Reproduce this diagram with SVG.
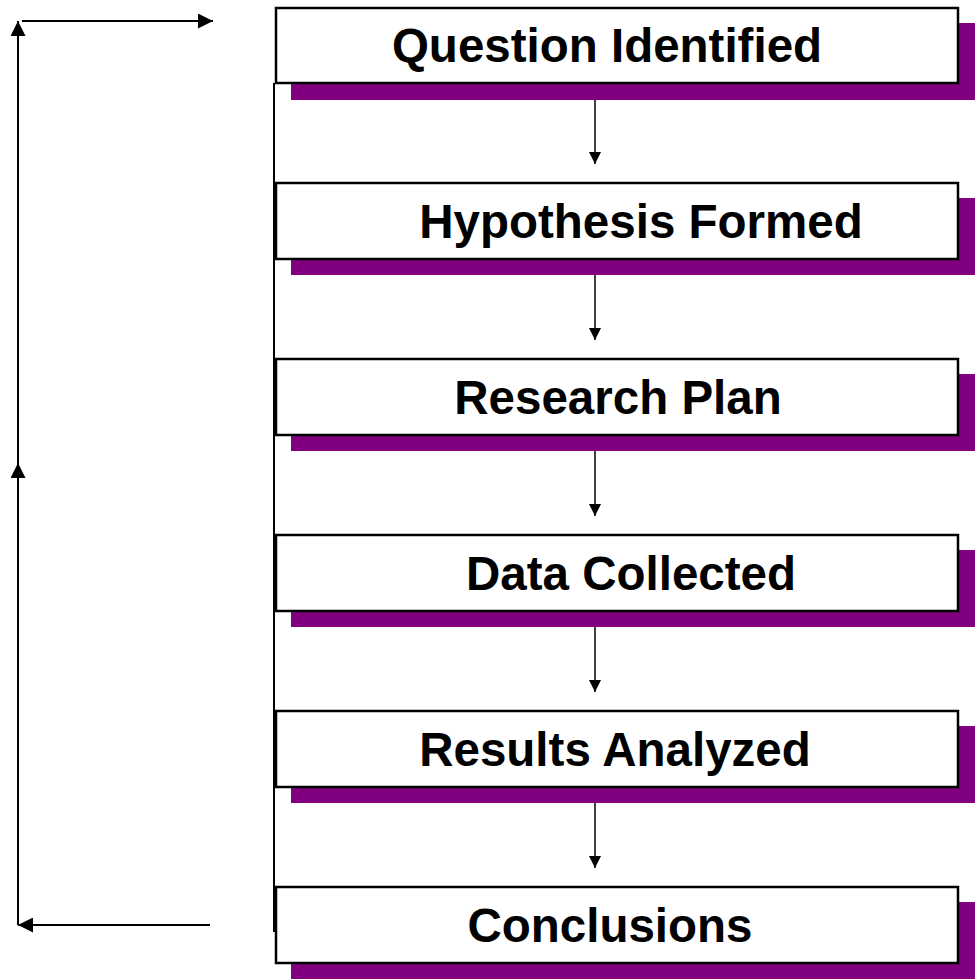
<svg xmlns="http://www.w3.org/2000/svg" width="980" height="980" viewBox="0 0 980 980">
<defs>
<marker id="ah" viewBox="0 0 10 10" refX="10" refY="5" markerWidth="13" markerHeight="12" markerUnits="userSpaceOnUse" orient="auto"><path d="M0,0 L10,5 L0,10 z" fill="#000"/></marker>
<marker id="ahL" viewBox="0 0 10 10" refX="10" refY="5" markerWidth="16" markerHeight="15" markerUnits="userSpaceOnUse" orient="auto"><path d="M0,0 L10,5 L0,10 z" fill="#000"/></marker>
<style>
.sh{fill:#800080}
.bx{fill:#fff;stroke:#000;stroke-width:2.5}
.lb{font-family:"Liberation Sans",Arial,sans-serif;font-weight:bold;font-size:47.5px;fill:#000;text-anchor:middle}
.c{stroke:#000;stroke-width:1.5;fill:none}
.lp{stroke:#000;stroke-width:2;fill:none}
</style>
</defs>
<g id="connectors">
<line class="lp" x1="274" y1="83" x2="274" y2="932"/>
<line class="lp" x1="18" y1="925" x2="18" y2="463" marker-end="url(#ahL)"/>
<line class="lp" x1="18" y1="463" x2="18" y2="21" marker-end="url(#ahL)"/>
<line class="lp" x1="22" y1="21" x2="213" y2="21" marker-end="url(#ahL)"/>
<line class="lp" x1="210" y1="925" x2="18" y2="925" marker-end="url(#ahL)"/>
<line class="c" x1="595" y1="83" x2="595" y2="164" marker-end="url(#ah)"/>
<line class="c" x1="595" y1="259" x2="595" y2="340" marker-end="url(#ah)"/>
<line class="c" x1="595" y1="435" x2="595" y2="516" marker-end="url(#ah)"/>
<line class="c" x1="595" y1="611" x2="595" y2="692" marker-end="url(#ah)"/>
<line class="c" x1="595" y1="787" x2="595" y2="868" marker-end="url(#ah)"/>
</g>
<g id="n1"><rect class="sh" x="291" y="23" width="684" height="77"/><rect class="bx" x="276" y="8" width="682" height="75"/><text class="lb" x="607" y="62">Question Identified</text></g>
<g id="n2"><rect class="sh" x="291" y="198" width="684" height="77"/><rect class="bx" x="276" y="183" width="682" height="76"/><text class="lb" x="641" y="238">Hypothesis Formed</text></g>
<g id="n3"><rect class="sh" x="291" y="374" width="684" height="77"/><rect class="bx" x="276" y="359" width="682" height="76"/><text class="lb" x="618" y="414">Research Plan</text></g>
<g id="n4"><rect class="sh" x="291" y="550" width="684" height="77"/><rect class="bx" x="276" y="535" width="682" height="76"/><text class="lb" x="631" y="590">Data Collected</text></g>
<g id="n5"><rect class="sh" x="291" y="726" width="684" height="77"/><rect class="bx" x="276" y="711" width="682" height="76"/><text class="lb" x="615" y="766">Results Analyzed</text></g>
<g id="n6"><rect class="sh" x="291" y="902" width="684" height="77"/><rect class="bx" x="276" y="887" width="682" height="76"/><text class="lb" x="610" y="942">Conclusions</text></g>
</svg>
